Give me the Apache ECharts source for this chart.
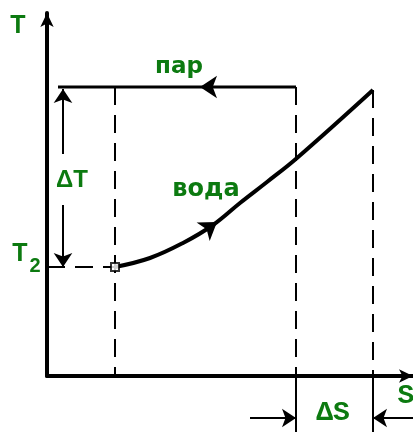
<!DOCTYPE html>
<html>
<head>
<meta charset="utf-8">
<script src="https://cdn.jsdelivr.net/npm/echarts@6/dist/echarts.min.js"></script>
<style>
  html, body { margin: 0; padding: 0; background: #fff; }
  #chart { width: 413px; height: 432px; }
</style>
</head>
<body>
<div id="chart"></div>
<script>
// water heating curve (S, T)
const curveS = [68, 103, 136, 166, 193, 220, 250, 326];
const curveT = [109, 118, 133, 151, 173, 194, 218, 286];

// levels
const S0 = 11;    // start of vapour line
const S1 = 68;    // start of water curve
const S2 = 249;   // vapour line end
const S3 = 326;   // end of water curve
const T1 = 289;   // vapour temperature
const T2 = 109;   // start temperature
const dTs = 16;   // position of the ΔT arrow
const dSt = -42;  // level of the ΔS arrows
const below = -56;

const green = "#0c7a10";

let chart = echarts.init(document.getElementById("chart"));

function axis(max) {
  return {
    type: "value",
    min: 0,
    max: max,
    axisLine: {
      show: true,
      onZero: false,
      symbol: ["none", "arrow"],
      symbolSize: [10, 14],
      lineStyle: { color: "#000", width: 4 }
    },
    axisTick: { show: false },
    axisLabel: { show: false },
    splitLine: { show: false }
  };
}

function seg(coords, dashed, width) {
  return {
    type: "line",
    data: coords,
    symbol: "none",
    clip: false,
    silent: true,
    lineStyle: { color: "#000", width: width || 2, type: dashed ? [18, 10] : "solid" },
    z: 2
  };
}

function arrows(list, size) {
  return {
    type: "lines",
    coordinateSystem: "cartesian2d",
    clip: false,
    silent: true,
    symbol: ["none", "arrow"],
    symbolSize: size,
    lineStyle: { color: "#000", width: 2, opacity: 1, curveness: 0 },
    data: list.map(c => ({ coords: c })),
    z: 4
  };
}

function label(text, x, y, size, opts) {
  return {
    type: "text",
    x: x,
    y: y,
    style: Object.assign({
      text: text,
      fontSize: size,
      fontFamily: "Liberation Sans",
      fontWeight: "bold",
      fill: green,
      align: "center",
      verticalAlign: "middle"
    }, opts || {})
  };
}

chart.setOption({
  animation: false,
  grid: { left: 47, top: 13, width: 366, height: 363 },
  xAxis: axis(366),
  yAxis: axis(363),
  series: [
    // dashed guides
    seg([[S1, T1], [S1, 0]], true),
    seg([[S2, T1], [S2, 0]], true),
    seg([[S3, curveT[curveT.length - 1]], [S3, 0]], true),
    seg([[0, T2], [S1, T2]], true),
    // solid parts below the S axis
    seg([[S2, 0], [S2, below]], false),
    seg([[S3, 0], [S3, below]], false),
    // vapour line
    seg([[S2, T1], [S0, T1]], false, 3),
    // water curve
    {
      type: "line",
      data: curveS.map((s, i) => [s, curveT[i]]),
      smooth: 0.4,
      symbol: "none",
      clip: false,
      lineStyle: { color: "#000", width: 4 },
      z: 5
    },
    {
      type: "scatter",
      data: [[S1, T2]],
      symbol: "rect",
      symbolSize: 8,
      itemStyle: { color: "#fff", borderColor: "#000", borderWidth: 2 },
      z: 6
    },
    arrows([
      [[S2, T1], [153, T1]],
      [[158, 145.5], [170, 154]]
    ], [11, 17]),
    arrows([
      [[dTs, 222], [dTs, 287]],
      [[dTs, 171], [dTs, T2]],
      [[203, dSt], [S2, dSt]],
      [[366, dSt], [S3, dSt]]
    ], [9, 14])
  ],
  graphic: [
    label("T", 18, 26, 25),
    label("пар", 179, 67, 23, { fontFamily: "DejaVu Sans" }),
    label("вода", 206, 190, 24, { fontFamily: "DejaVu Sans" }),
    label("ΔT", 72, 180, 24),
    label("T", 20, 254, 25),
    label("2", 35, 266, 20),
    label("S", 406, 396, 28, { fontFamily: "Liberation Mono" }),
    label("ΔS", 333, 413, 28, { fontFamily: "Liberation Mono" })
  ]
});
</script>
</body>
</html>
